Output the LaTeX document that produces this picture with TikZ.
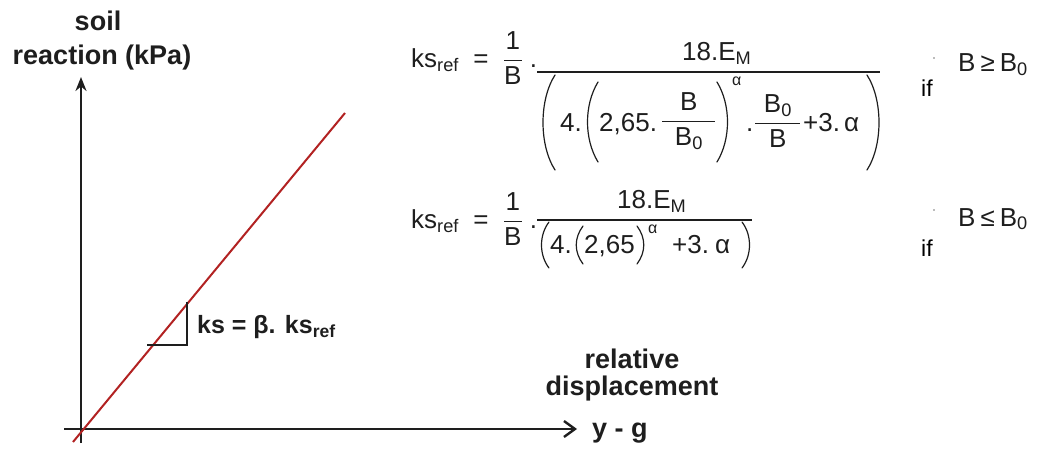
\documentclass[tikz,border=0pt]{standalone}
\usepackage{fix-cm}
\usepackage{amsmath}
\usepackage{fontspec}
\setmainfont{Liberation Sans}
\usetikzlibrary{arrows.meta}
\definecolor{redline}{RGB}{178,34,34}
\definecolor{ink}{RGB}{30,30,30}
\newcommand\tx[1]{\text{#1}}
% place #2 at offset #1 (pt) from the start of the line, taking no width
\newcommand\at[2]{\rlap{\hspace*{#1pt}#2}}
\newcommand\sa[1]{{\fontsize{16}{18}\selectfont #1}}
\newcommand\fr[2]{\genfrac{}{}{1.3pt}{0}{#1}{#2}}
\begin{document}
\begin{tikzpicture}[x=1pt,y=-1pt,
  axis/.style={line width=2.4pt,draw=ink},
  lbl/.style={font=\fontsize{27}{31}\selectfont\bfseries,inner sep=0pt,text=ink},
  eq/.style={font=\fontsize{26}{30}\selectfont,inner sep=0pt,text=ink},
  ifl/.style={font=\fontsize{23}{27}\selectfont,inner sep=0pt,text=black},
  par/.style={line width=1.2pt,draw=ink,line cap=round},
]
\useasboundingbox (0,0) rectangle (1047,452);
% axes
\coordinate (xs) at (64,429);
\coordinate (xe) at (577,429);
\coordinate (ys) at (81,443);
\coordinate (ye) at (81,77);
\draw[axis,-{Straight Barb[length=11pt,width=16pt,line width=2.4pt]}] (xs) -- (xe);
\draw[axis,-{Stealth[length=14pt,width=11pt]}] (ys) -- (ye);
% red line
\coordinate (rs) at (73,442);
\coordinate (re) at (345,113);
\draw[redline,line width=2pt] (rs) -- (re);
% slope triangle
\coordinate (ta) at (147,345);
\coordinate (tb) at (187,345);
\coordinate (tc) at (187,302);
\draw[ink,line width=1.4pt] (ta) -- (tb) -- (tc);
% labels
\node[lbl,anchor=base] (soil) at (98,31) {soil};
\node[lbl,anchor=base] (react) at (102,64) {reaction (kPa)};
\node[lbl,anchor=base] (rel) at (632,368) {relative};
\node[lbl,anchor=base] (disp) at (632,395) {displacement};
\node[lbl,anchor=base west] (yg) at (592,437) {y - g};
\node[lbl,anchor=base west,font=\fontsize{25}{29}\selectfont\bfseries] (ks) at (197,333) {ks = β. ks\textsubscript{ref}};
% ---------------- formula 1
\node[eq,anchor=base west] (f1l) at (411,67) {$\tx{ks}_{\tx{ref}}\;\;\tx{=}\;\;\fr{\tx{1}}{\tx{B}}\;\tx{.}$};
\node[eq,anchor=base west] (f1r) at (535.8,78.5) {$\fr{\makebox[343pt][l]{\hspace*{145pt}$\tx{18.E}_{\tx{M}}$}}{\makebox[343pt][l]{\rule[-37pt]{0pt}{58pt}%
\at{23}{4.}%
\at{62}{2,65.}%
\at{124}{\raisebox{3pt}{$\fr{\makebox[53pt]{B}}{\makebox[53pt]{B\textsubscript{0}}}$}}%
\at{195}{\raisebox{46pt}{\sa{α}}}%
\at{209}{.}%
\at{217}{\raisebox{1pt}{$\fr{\makebox[45pt]{B\textsubscript{0}}}{\makebox[45pt]{B}}$}}%
\at{266}{+3.}%
\at{307}{α}}}$};
% parentheses of formula 1
\draw[par] (555,75) .. controls (539,100) and (539,145) .. (555,170);
\draw[par] (598,82) .. controls (584,105) and (584,139) .. (598,162);
\draw[par] (717,82) .. controls (731,105) and (731,139) .. (717,162);
\draw[par] (867,75) .. controls (883,100) and (883,145) .. (867,170);
\node[ifl,anchor=base west] (if1) at (921,96) {if};
\node[eq,anchor=base west] (c1) at (958,72) {B\hspace{5pt}≥\hspace{5pt}B\textsubscript{0}};
\fill[ink!60] (934,58) circle (0.9);
% ---------------- formula 2
\node[eq,anchor=base west] (f2l) at (411,228) {$\tx{ks}_{\tx{ref}}\;\;\tx{=}\;\;\fr{\tx{1}}{\tx{B}}\;\tx{.}$};
\node[eq,anchor=base west] (f2r) at (535.8,226.5) {$\fr{\makebox[215pt][l]{\hspace*{80pt}$\tx{18.E}_{\tx{M}}$}}{\makebox[215pt][l]{\rule[-12pt]{0pt}{33pt}%
\at{13}{4.}%
\at{47}{2,65}%
\at{111}{\raisebox{20pt}{\sa{α}}}%
\at{135}{+3.}%
\at{178}{α}}}$};
% parentheses of formula 2
\draw[par] (549,222) .. controls (539,235) and (539,255) .. (549,268);
\draw[par] (583,226) .. controls (574,238) and (574,252) .. (583,264);
\draw[par] (637,226) .. controls (646,238) and (646,252) .. (637,264);
\draw[par] (742,222) .. controls (752,235) and (752,255) .. (742,268);
\node[ifl,anchor=base west] (if2) at (921,256) {if};
\node[eq,anchor=base west] (c2) at (958,226) {B\hspace{5pt}≤\hspace{5pt}B\textsubscript{0}};
\fill[ink!60] (934,210) circle (0.9);
\end{tikzpicture}
\end{document}
